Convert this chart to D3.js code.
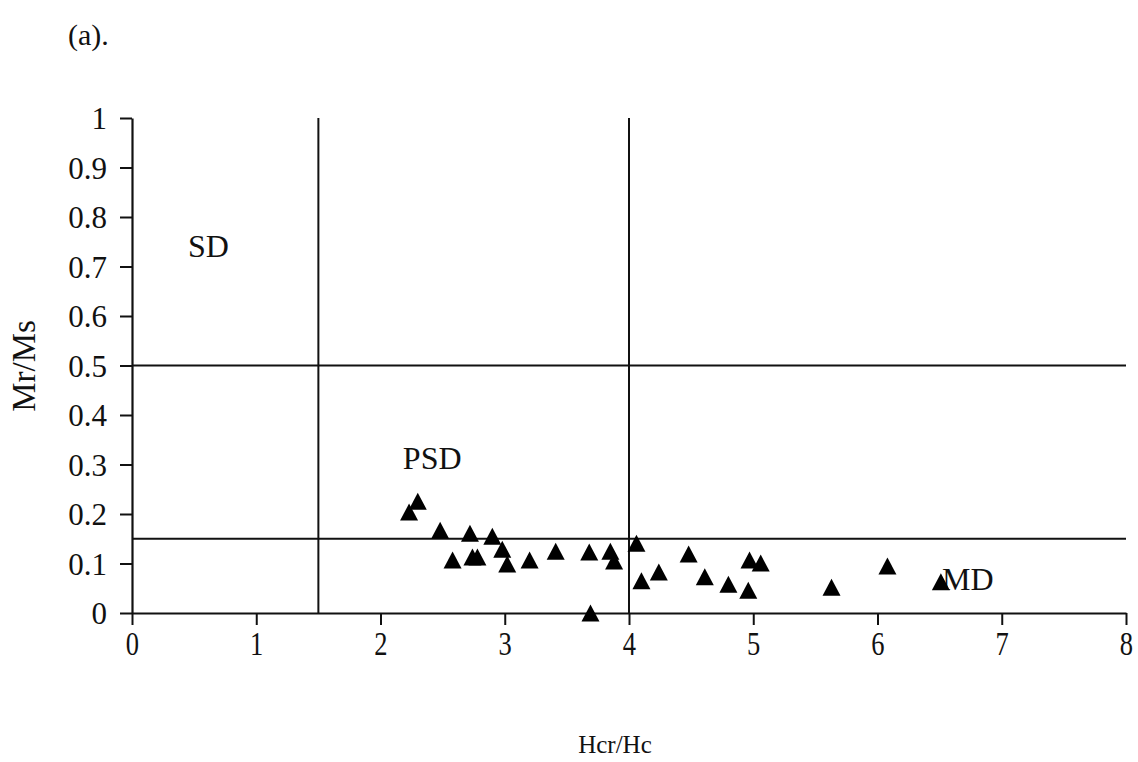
<!DOCTYPE html>
<html>
<head>
<meta charset="utf-8">
<script src="https://cdn.jsdelivr.net/npm/d3@7"></script>
<style>
  html, body { margin: 0; padding: 0; background: #ffffff; }
  svg { display: block; }
  text { font-family: "Liberation Serif", "Times New Roman", serif; fill: #111; }
</style>
</head>
<body>
<svg id="chart" width="1138" height="762"></svg>
<script>
// Hysteresis ratios: Hcr/Hc (x) against Mr/Ms (y)
const hcrHc = [2.30, 2.23, 2.48, 2.72, 2.90, 2.98, 2.58, 2.74, 2.78, 3.02,
               3.20, 3.41, 3.68, 3.85, 3.88, 3.69, 4.06, 4.10, 4.24, 4.48,
               4.61, 4.80, 4.96, 4.97, 5.06, 5.63, 6.08, 6.51];
const mrMs  = [0.226, 0.204, 0.167, 0.161, 0.155, 0.129, 0.107, 0.113, 0.113, 0.099,
               0.107, 0.125, 0.123, 0.125, 0.105, 0.000, 0.141, 0.065, 0.083, 0.119,
               0.073, 0.058, 0.046, 0.107, 0.101, 0.052, 0.095, 0.063];

const xTicks = [0, 1, 2, 3, 4, 5, 6, 7, 8];
const yTicks = [0, 0.1, 0.2, 0.3, 0.4, 0.5, 0.6, 0.7, 0.8, 0.9, 1];

// Domain boundaries (Day plot)
const hcrBounds = [1.5, 4];
const mrBounds = [0.5, 0.15];

const regionLabels = [
  { text: "SD",  x: 0.45, y: 0.72 },
  { text: "PSD", x: 2.18, y: 0.29 },
  { text: "MD",  x: 6.52, y: 0.047 }
];

const svg = d3.select("#chart");
const ink = "#111";

const x = d3.scaleLinear().domain([0, 8]).range([132, 1126]);
const y = d3.scaleLinear().domain([0, 1]).range([613, 118]);

// Axes
const xAxis = d3.axisBottom(x).tickValues(xTicks).tickFormat(d3.format("d"))
  .tickSizeInner(12).tickSizeOuter(0).tickPadding(6);
const yAxis = d3.axisLeft(y).tickValues(yTicks).tickFormat(d => d === 0 || d === 1 ? String(d) : d3.format(".1f")(d))
  .tickSizeInner(12).tickSizeOuter(0).tickPadding(13);

const gx = svg.append("g").attr("transform", `translate(0,${y(0)})`).call(xAxis);
const gy = svg.append("g").attr("transform", `translate(${x(0)},0)`).call(yAxis);

[gx, gy].forEach(g => {
  g.select(".domain").attr("stroke", ink).attr("stroke-width", 2.2);
  g.selectAll(".tick line").attr("stroke", ink).attr("stroke-width", 2);
  g.selectAll(".tick text").attr("fill", ink).style("font-family", "'Liberation Serif', serif");
});
gx.selectAll(".tick text").style("font-size", "34px")
  .attr("transform", "scale(0.78,1)");
gy.selectAll(".tick text").style("font-size", "31px").attr("dy", "0.34em");

// Boundary lines
svg.append("g").selectAll("line.v").data(hcrBounds).join("line")
  .attr("x1", d => x(d)).attr("x2", d => x(d))
  .attr("y1", y(0)).attr("y2", y(1))
  .attr("stroke", ink).attr("stroke-width", 2);

svg.append("g").selectAll("line.h").data(mrBounds).join("line")
  .attr("x1", x(0)).attr("x2", x(8))
  .attr("y1", d => y(d)).attr("y2", d => y(d))
  .attr("stroke", ink).attr("stroke-width", 2);

// Region labels
svg.append("g").selectAll("text").data(regionLabels).join("text")
  .attr("x", d => x(d.x)).attr("y", d => y(d.y))
  .style("font-size", "32px")
  .text(d => d.text);

// Triangle markers
const triW = 18, triH = 17;
const tri = `M0,${-triH / 2}L${triW / 2},${triH / 2}L${-triW / 2},${triH / 2}Z`;
svg.append("g").selectAll("path").data(hcrHc).join("path")
  .attr("d", tri)
  .attr("transform", (d, i) => `translate(${x(d)},${y(mrMs[i])})`)
  .attr("fill", "#000");

// Axis titles and panel tag
svg.append("text")
  .attr("transform", `translate(35,366) rotate(-90)`)
  .attr("text-anchor", "middle")
  .style("font-size", "33px")
  .text("Mr/Ms");

svg.append("text")
  .attr("x", 615).attr("y", 753)
  .attr("text-anchor", "middle")
  .style("font-size", "25px")
  .text("Hcr/Hc");

svg.append("text")
  .attr("x", 68).attr("y", 45)
  .style("font-size", "30px")
  .text("(a).");
</script>
</body>
</html>
